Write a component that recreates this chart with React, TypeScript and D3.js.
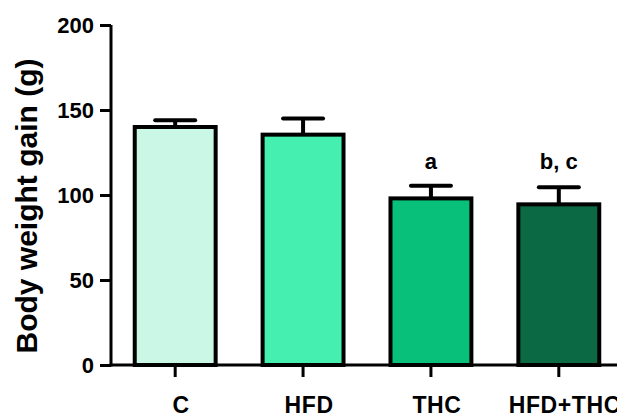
import React, { useEffect, useRef } from "react";
import * as d3 from "d3";

const groups = ["C", "HFD", "THC", "HFD+THC"];
const means = [140, 135.5, 98, 94.5];
const errors = [4, 9.5, 7.5, 10];
const letters = ["", "", "a", "b, c"];
const colors = ["#cbf7e6", "#44efb0", "#09c07b", "#0b6a43"];
const yTicks = [0, 50, 100, 150, 200];

const font = "'Liberation Sans', Arial, sans-serif";

export default function App() {
  const ref = useRef<SVGSVGElement>(null);

  useEffect(() => {
    const svg = d3.select(ref.current);
    svg.selectAll("*").remove();

    const w = 617, h = 417;
    const left = 111;
    const bottom = 365;

    const x = d3.scaleBand<string>().domain(groups).range([left, 623])
      .paddingInner(0.336).paddingOuter(0.17);
    const y = d3.scaleLinear().domain([0, 200]).range([bottom, 25]);

    const g = svg.append("g");

    // bars
    g.selectAll("rect.bar")
      .data(groups)
      .join("rect")
      .attr("class", "bar")
      .attr("x", d => x(d)! + 2)
      .attr("y", (d, i) => y(means[i]))
      .attr("width", x.bandwidth() - 4)
      .attr("height", (d, i) => bottom - y(means[i]))
      .attr("fill", (d, i) => colors[i])
      .attr("stroke", "#000")
      .attr("stroke-width", 4);

    // error bars, upper side only
    const cx = (d: string) => x(d)! + x.bandwidth() / 2;
    g.selectAll("line.err")
      .data(groups)
      .join("line")
      .attr("class", "err")
      .attr("x1", cx).attr("x2", cx)
      .attr("y1", (d, i) => y(means[i]))
      .attr("y2", (d, i) => y(means[i] + errors[i]))
      .attr("stroke", "#000")
      .attr("stroke-width", 4);
    g.selectAll("line.cap")
      .data(groups)
      .join("line")
      .attr("class", "cap")
      .attr("x1", d => cx(d) - 20).attr("x2", d => cx(d) + 20)
      .attr("y1", (d, i) => y(means[i] + errors[i]))
      .attr("y2", (d, i) => y(means[i] + errors[i]))
      .attr("stroke", "#000")
      .attr("stroke-width", 4)
      .attr("stroke-linecap", "round");

    // significance letters
    g.selectAll("text.sig")
      .data(groups)
      .join("text")
      .attr("class", "sig")
      .attr("x", cx)
      .attr("y", 169)
      .attr("text-anchor", "middle")
      .style("font-family", font)
      .style("font-weight", "bold")
      .style("font-size", "22px")
      .text((d, i) => letters[i]);

    // y axis
    const yAxis = g.append("g")
      .attr("transform", `translate(${left},0)`)
      .call(d3.axisLeft(y).tickValues(yTicks).tickSize(11).tickPadding(6).tickFormat(d3.format("d")));
    yAxis.select(".domain").attr("stroke-width", 3).attr("d", `M0,${y(200)}V${bottom + 1.5}`);
    yAxis.selectAll(".tick line").attr("stroke-width", 3);
    yAxis.selectAll(".tick text")
      .style("font-family", font)
      .style("font-weight", "bold")
      .style("font-size", "22px")
      .attr("dy", "0.36em");

    // x axis
    const xAxis = g.append("g")
      .attr("transform", `translate(0,${bottom})`)
      .call(d3.axisBottom(x).tickSize(12).tickPadding(20));
    xAxis.select(".domain").attr("stroke-width", 3).attr("d", `M${left - 1.5},0H${w}`);
    xAxis.selectAll(".tick line").attr("stroke-width", 3);
    xAxis.selectAll(".tick text")
      .style("font-family", font)
      .style("font-weight", "bold")
      .style("font-size", "23px")
      .style("letter-spacing", "0.6px")
      .attr("dx", 6);

    // y label
    g.append("text")
      .attr("transform", `translate(37,${206}) rotate(-90)`)
      .attr("text-anchor", "middle")
      .style("font-family", font)
      .style("font-weight", "bold")
      .style("font-size", "30px")
      .text("Body weight gain (g)");

    svg.attr("width", w).attr("height", h);
  }, []);

  return (
    <svg ref={ref} width={617} height={417}
      style={{ position: "absolute", left: 0, top: 0, background: "#fff" }} />
  );
}
